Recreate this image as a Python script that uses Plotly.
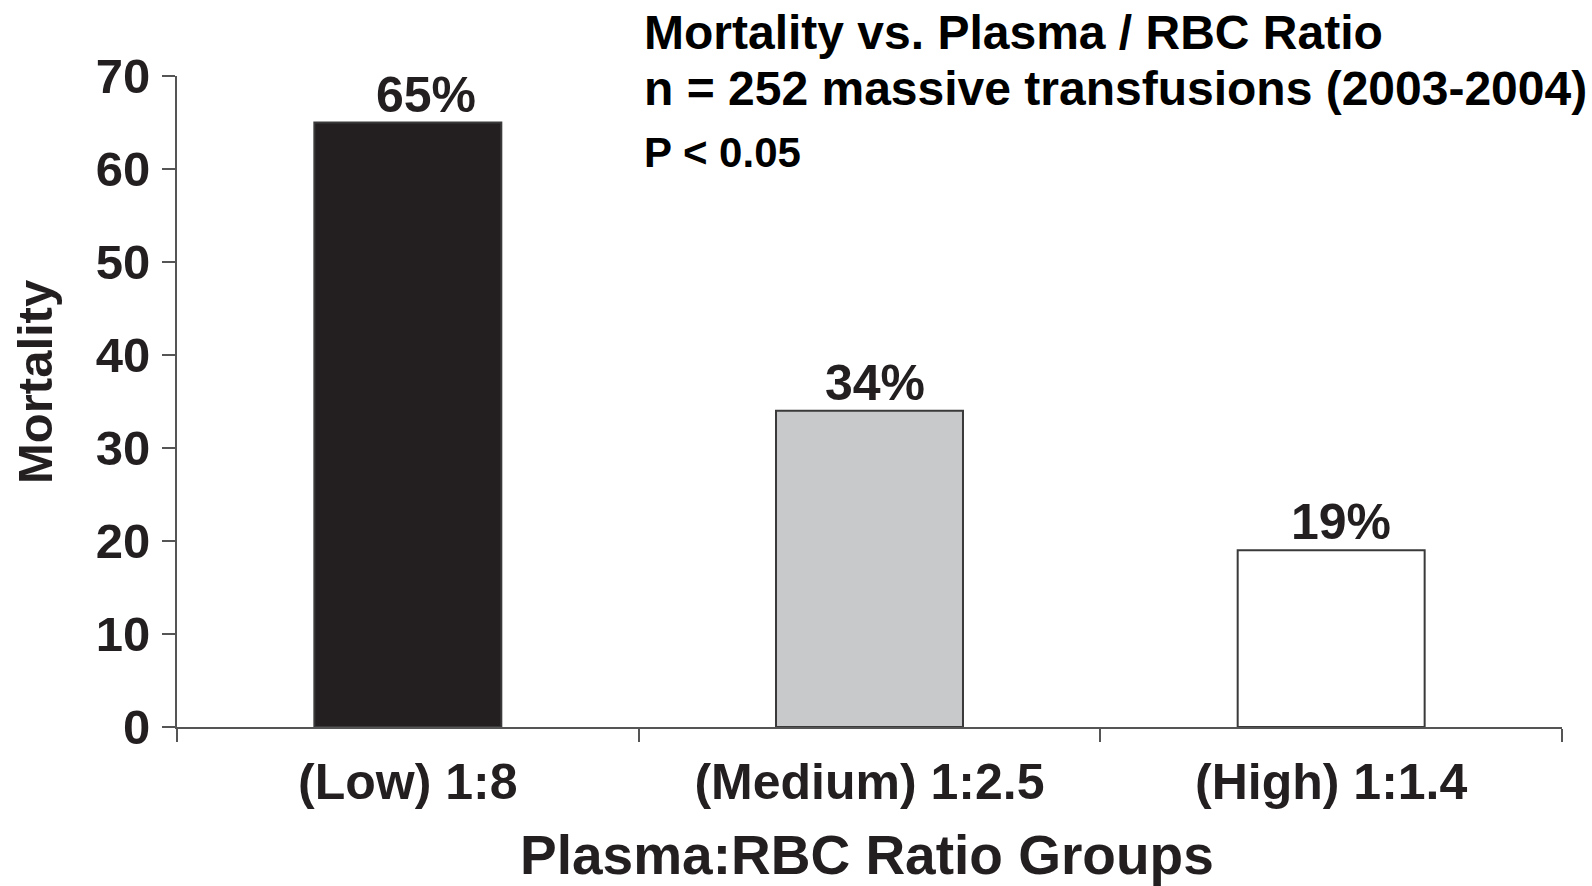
import plotly.graph_objects as go

# Mortality by plasma:RBC ratio group
groups = ["(Low) 1:8", "(Medium) 1:2.5", "(High) 1:1.4"]
mortality = [65, 34, 19]
y_ticks = [0, 10, 20, 30, 40, 50, 60, 70]

bar_fill = ["#231f20", "#c8c9cb", "#ffffff"]
label_shift = [18, 5, 10]

TEXT = "#231f20"
AXIS = "#555555"
BOLD = "Liberation Sans, Arial, Helvetica, sans-serif"

fig = go.Figure()
fig.add_trace(go.Bar(
    x=groups,
    y=mortality,
    width=0.405,
    marker=dict(color=bar_fill, line=dict(color="#3a3a3a", width=2)),
    showlegend=False,
    hoverinfo="x+y",
))

# value labels above each bar
for g, v, dx in zip(groups, mortality, label_shift):
    fig.add_annotation(
        x=g, y=v, xref="x", yref="y", text=f"{v}%",
        showarrow=False, yanchor="bottom", xshift=dx, yshift=-2,
        font=dict(family=BOLD, size=50, color=TEXT, weight="bold"),
    )

# heading block
heading = [
    ("Mortality vs. Plasma / RBC Ratio", 48, 1.067),
    ("n = 252 massive transfusions (2003-2004)", 48, 0.981),
    ("P < 0.05", 42, 0.882),
]
for txt, size, ypos in heading:
    fig.add_annotation(
        x=0.3357, y=ypos, xref="paper", yref="paper", text=txt,
        showarrow=False, xanchor="left", yanchor="middle",
        font=dict(family=BOLD, size=size, color="#000000", weight="bold"),
    )

# axis titles
fig.add_annotation(
    x=-0.1025, y=0.53, xref="paper", yref="paper", text="Mortality",
    textangle=-90, showarrow=False, xanchor="center", yanchor="middle",
    font=dict(family=BOLD, size=49, color=TEXT, weight="bold"),
)
fig.add_annotation(
    x=0.4985, y=-0.197, xref="paper", yref="paper",
    text="Plasma:RBC Ratio Groups",
    showarrow=False, xanchor="center", yanchor="middle",
    font=dict(family=BOLD, size=55, color=TEXT, weight="bold"),
)

fig.update_layout(
    width=1592,
    height=886,
    margin=dict(l=177, r=30, t=76, b=159),
    paper_bgcolor="white",
    plot_bgcolor="white",
    xaxis=dict(
        type="category",
        tickson="boundaries",
        ticks="outside",
        ticklen=13,
        tickwidth=2,
        tickcolor=AXIS,
        showline=True,
        linecolor=AXIS,
        linewidth=2,
        showgrid=False,
        tickfont=dict(family=BOLD, size=50, color=TEXT, weight="bold"),
        ticklabelstandoff=10,
        range=[-0.5, 2.5],
    ),
    yaxis=dict(
        range=[0, 70],
        tickvals=y_ticks,
        ticks="outside",
        ticklen=13,
        tickwidth=2,
        tickcolor=AXIS,
        showline=True,
        linecolor=AXIS,
        linewidth=2,
        showgrid=False,
        zeroline=False,
        tickfont=dict(family=BOLD, size=49, color=TEXT, weight="bold"),
        ticklabelstandoff=2,
    ),
)

fig.write_html("out.html")
